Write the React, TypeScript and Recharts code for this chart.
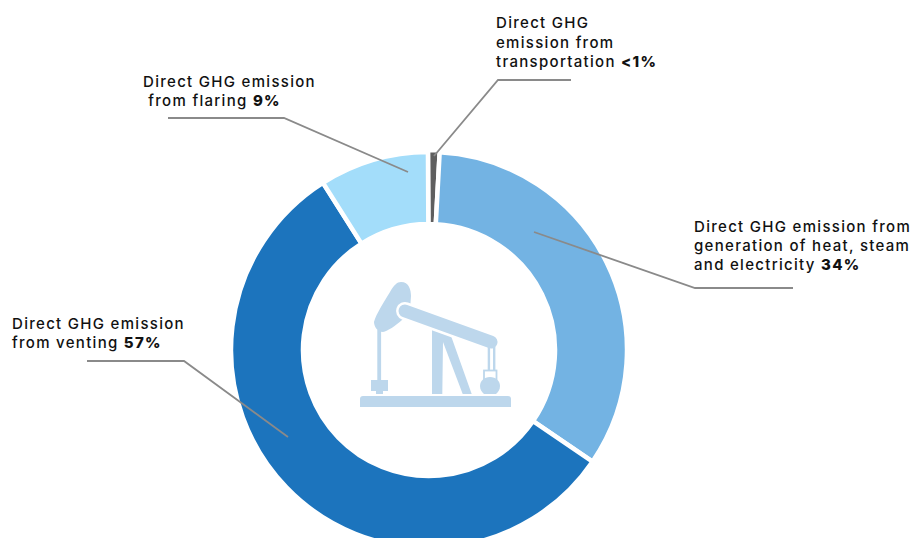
import { PieChart, Pie, Cell, Sector } from "recharts";

const categories = [
  "Direct GHG emission from transportation",
  "Direct GHG emission from generation of heat, steam and electricity",
  "Direct GHG emission from venting",
  "Direct GHG emission from flaring",
];
// transportation is only labelled "<1%", so it gets a value just under 1
const shares = [0.95, 34, 57, 9];
const sliceColors = ["#5f5f5f", "#73b3e3", "#1c74bd", "#a3ddfa"];

const tableData = categories.map((name, i) => ({ name, value: shares[i] }));

const INK = "#111";
const LEADER = "#8a8a8a";
const ICON = "#bdd7ec";
const FONT = "Inter, sans-serif";

const callouts = [
  { x: 496, y: 28, gap: 19.5, lines: ["Direct GHG", "emission from", "transportation "], value: "<1%", leader: "571,80 498,80 434,156" },
  { x: 694, y: 232, gap: 19, lines: ["Direct GHG emission from", "generation of heat, steam", "and electricity "], value: "34%", leader: "534,232 695,288 793,288" },
  { x: 12, y: 329, gap: 19, lines: ["Direct GHG emission", "from venting "], value: "57%", leader: "87,361 184,361 288,437" },
  { x: 143, y: 87, gap: 18.5, lines: ["Direct GHG emission", " from flaring "], value: "9%", leader: "168,118 284,118 408,172" },
];

// thin transportation slice sticks out a touch past the ring
const renderSlice = (props: any) => (
  <Sector {...props} outerRadius={props.index === 0 ? props.outerRadius + 2 : props.outerRadius} />
);

// leader line and text for one slice, rendered in the pie's label layer so it sits over the ring
const renderCallout = ({ index }: any) => {
  const c = callouts[index];
  return (
    <g key={c.leader}>
      <polyline points={c.leader} fill="none" stroke={LEADER} strokeWidth={1.8} />
      <text fontFamily={FONT} fontSize={15} fontWeight={500} letterSpacing={1.3} fill={INK}>
        {c.lines.map((line, i) => (
          <tspan key={i} x={c.x} y={c.y + i * c.gap} xmlSpace="preserve">
            {line}
            {i === c.lines.length - 1 && <tspan fontWeight={800}>{c.value}</tspan>}
          </tspan>
        ))}
      </text>
    </g>
  );
};

const PumpJack = () => (
  <g fill={ICON}>
    <path d="M401 282 C409 282 411 290 411 296 L410 310 L402 320 C395 326 388 331 383 332 C377 332 374 326 374 322 C376 314 384 302 390 292 C394 285 397 282 401 282 Z" />
    <rect x="377.3" y="330" width="3.8" height="52" />
    <rect x="371" y="380" width="17" height="11" />
    <rect x="376" y="390" width="7" height="4" />
    <polygon points="432,326 450,333 471.7,394 462.7,394 443,342 442.3,394 432,394" />
    <line x1="405" y1="311" x2="491" y2="342" stroke="#fff" strokeWidth={18} strokeLinecap="round" />
    <line x1="405" y1="311" x2="491" y2="342" stroke={ICON} strokeWidth={13} strokeLinecap="round" />
    <rect x="487.7" y="346" width="2.4" height="25" />
    <rect x="493" y="346" width="2.4" height="25" />
    <rect x="484" y="370.5" width="12.5" height="10" fill="none" stroke={ICON} strokeWidth={1.8} />
    <path d="M490 377 C496 377 500 381 500 386 C500 390 498 392 496 394 L484 394 C482 392 480 390 480 386 C480 381 484 377 490 377 Z" />
    <path d="M360 399 Q360 396 363 396 L508 396 Q511 396 511 399 L511 407 L360 407 Z" />
  </g>
);

export default function App() {
  return (
    <div style={{ position: "absolute", left: 0, top: 0, width: 916, height: 538, overflow: "hidden", background: "#fff" }}>
      <PieChart width={916} height={538} margin={{ top: 0, right: 0, bottom: 0, left: 0 }}>
        <Pie
          data={tableData}
          dataKey="value"
          cx={429}
          cy={350}
          innerRadius={126}
          outerRadius={198}
          startAngle={90.3}
          endAngle={-269.7}
          paddingAngle={0}
          stroke="#fff"
          strokeWidth={4.5}
          shape={renderSlice}
          label={renderCallout}
          labelLine={false}
          isAnimationActive={false}
        >
          {tableData.map((entry, index) => (
            <Cell key={`cell-${index}`} fill={sliceColors[index]} />
          ))}
        </Pie>
        <PumpJack />
      </PieChart>
    </div>
  );
}
